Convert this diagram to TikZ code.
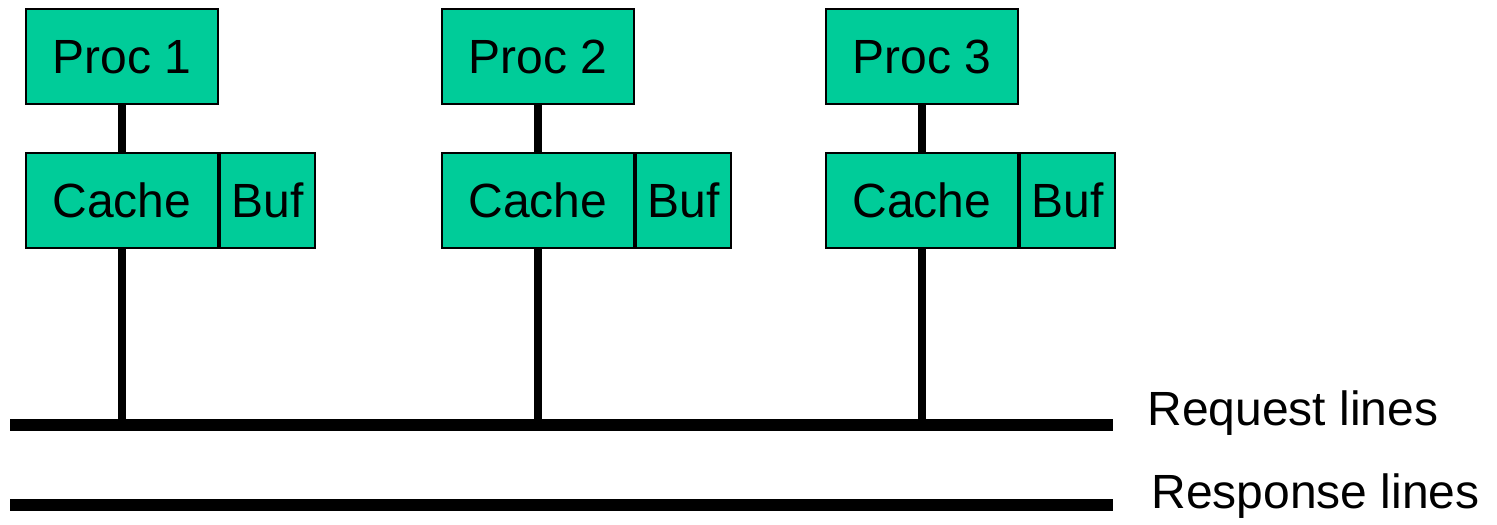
\documentclass[tikz,border=0pt]{standalone}
\usepackage{fontspec}
\setmainfont{Liberation Sans}
\definecolor{boxgreen}{RGB}{0,204,153}
\begin{document}
\begin{tikzpicture}[x=0.5pt,y=-0.5pt,
  every node/.style={font=\fontsize{24}{28}\selectfont, inner sep=0pt},
  unit/.style={draw=black, line width=1pt, fill=boxgreen, minimum height=47.5pt,
    text height=17pt, text depth=0pt},
  procbox/.style={unit, minimum width=96pt},
  cachebox/.style={unit, minimum width=96pt},
  bufbox/.style={unit, minimum width=47.5pt},
  link/.style={line width=3.8pt},
  bus/.style={line width=6pt},
  lbl/.style={anchor=base west}]
\useasboundingbox (0,0) rectangle (1497,524);

% three processor / cache / buffer groups
\foreach \i/\x in {1/122, 2/538, 3/922} {
  \node[procbox]  (proc\i)  at (\x,56.5) {Proc \i};
  \node[cachebox] (cache\i) at (\x,200.5) {Cache};
  \node[bufbox, anchor=west] (buf\i) at (cache\i.east) {Buf};
  \coordinate (tap\i) at (\x,425);
  \draw[link] (proc\i.south) -- (cache\i.north);
  \draw[link] (cache\i.south) -- (tap\i);
}

% request and response buses
\coordinate (reqL) at (10,425);
\coordinate (reqR) at (1113,425);
\coordinate (resL) at (10,505);
\coordinate (resR) at (1113,505);
\draw[bus] (reqL) -- (reqR);
\draw[bus] (resL) -- (resR);

\node[lbl] (reqlbl) at (1147,425) {Request lines};
\node[lbl] (reslbl) at (1151,508) {Response lines};
\end{tikzpicture}
\end{document}
